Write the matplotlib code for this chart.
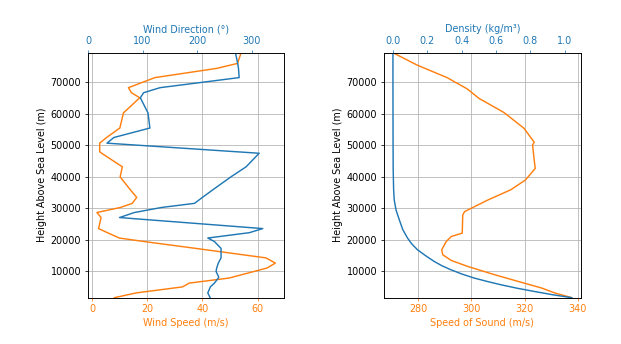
import matplotlib
matplotlib.use("Agg")
import matplotlib.pyplot as plt

# Wind profile (height in m above sea level)
wind_heights = [1670, 3200, 5100, 6300, 7900, 8200, 10000, 11100, 12650, 14300,
                17300, 19500, 20600, 22300, 23600, 27100, 28700, 30300, 31600,
                33500, 35900, 40000, 43200, 47500, 48000, 50700, 52500, 55500,
                60300, 65100, 66700, 68300, 71500, 74400, 76000, 79400]
wind_speed = [8.1, 16.1, 32.8, 35.2, 49.6, 50.9, 58.7, 63.4, 66.4, 63.0,
              37.7, 18.8, 9.9, 5.6, 2.4, 3.3, 1.8, 10.3, 14.6,
              16.2, 13.9, 10.2, 11.0, 3.5, 2.8, 2.8, 5.3, 10.1,
              11.4, 17.3, 14.3, 13.2, 22.8, 45.0, 52.7, 54.0]
wind_direction = [224, 219.7, 224.4, 231.8, 239.0, 239.8, 234.9, 236, 239, 244,
                  244, 231.8, 219.7, 295.9, 320.5, 57.8, 85.2, 135, 195.3,
                  209.9, 228.9, 262, 290, 313.9, 270, 34.8, 47.5, 113.5,
                  110, 96, 102, 132, 277.2, 276, 274.5, 270.4]

# Speed of sound profile
sound_heights = [1670, 3160, 4740, 6830, 8950, 11580, 13480, 15290, 16870, 19500,
                 21090, 22160, 27960, 29000, 32700, 35900, 39000, 42700, 45400,
                 50100, 51000, 55400, 60400, 64900, 67900, 71500, 75500, 79400]
speed_of_sound = [337.7, 331.4, 326.4, 317.6, 308.8, 298.7, 292.5, 289.3, 288.9, 290.6,
                  292.5, 296.6, 296.8, 297.5, 306.3, 314.8, 320.3, 324.0, 323.6,
                  323.0, 323.6, 319.8, 312.3, 302.9, 298.5, 290.9, 279.6, 270.6]

# Air density profile
density_heights = [1670, 2600, 3670, 4700, 5790, 6800, 7910, 9200, 10540, 11800,
                   13170, 15000, 16870, 18700, 20580, 23300, 26380, 29500, 32700,
                   36000, 42200, 50000, 60000, 70000, 79400]
density = [1.04, 0.93, 0.82, 0.72, 0.627, 0.55, 0.472, 0.40, 0.337, 0.285,
           0.240, 0.19, 0.143, 0.11, 0.085, 0.057, 0.037, 0.018, 0.0075,
           0.004, 0.0015, 0.0008, 0.0003, 0.0001, 0.00002]

y_limits = (1670, 79400)
orange = "#ff7f0e"
blue = "#1f77b4"

fig = plt.figure(figsize=(621 / 69, 344 / 69), dpi=69)

# Wind speed / direction
ax1 = fig.add_axes([88 / 621, 1 - 297.7 / 344, (284.3 - 88) / 621, (297.7 - 52.7) / 344])
ax1.plot(wind_speed, wind_heights, color=orange)
ax1.set_xlabel("Wind Speed (m/s)", color=orange)
ax1.tick_params("x", colors=orange)
ax1.set_ylabel("Height Above Sea Level (m)")
ax1.set_ylim(*y_limits)
ax1.grid(True)
ax1up = ax1.twiny()
ax1up.plot(wind_direction, wind_heights, color=blue)
ax1up.set_xlabel("Wind Direction (°)", color=blue)
ax1up.tick_params("x", colors=blue)
ax1up.set_xlim(0, 360)
ax1up.set_ylim(*y_limits)

# Speed of sound / density
ax2 = fig.add_axes([384 / 621, 1 - 297.7 / 344, (580.7 - 384) / 621, (297.7 - 52.7) / 344])
ax2.plot(speed_of_sound, sound_heights, color=orange)
ax2.set_xlabel("Speed of Sound (m/s)", color=orange)
ax2.tick_params("x", colors=orange)
ax2.set_ylabel("Height Above Sea Level (m)")
ax2.set_ylim(*y_limits)
ax2.grid(True)
ax2up = ax2.twiny()
ax2up.plot(density, density_heights, color=blue)
ax2up.set_xlabel("Density (kg/m³)", color=blue)
ax2up.tick_params("x", colors=blue)
ax2up.set_ylim(*y_limits)

fig.savefig("out.png", dpi=69)
